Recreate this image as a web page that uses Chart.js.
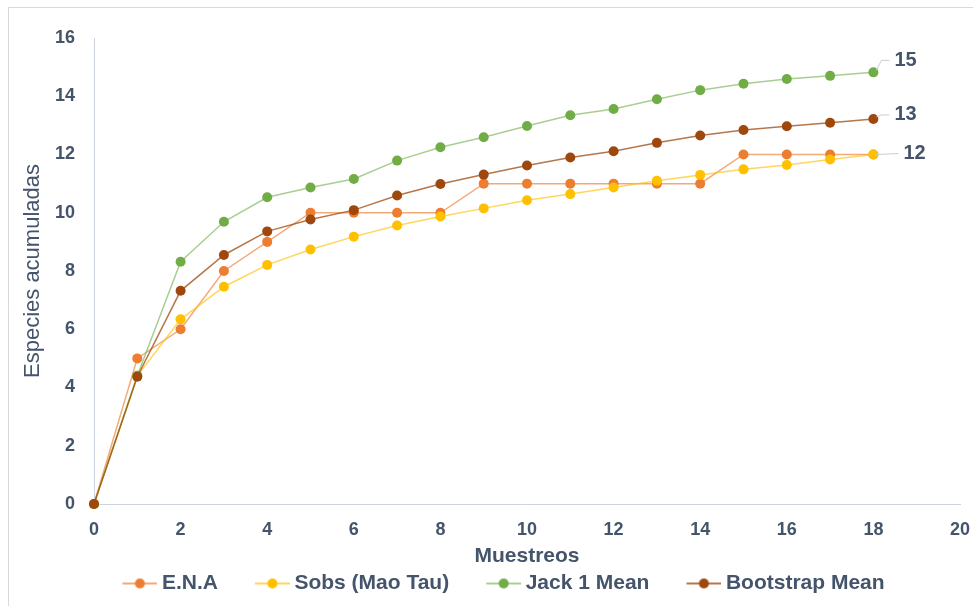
<!DOCTYPE html>
<html>
<head>
<meta charset="utf-8">
<script src="https://cdn.jsdelivr.net/npm/chart.js@4/dist/chart.umd.min.js"></script>
<style>
  html, body { margin: 0; padding: 0; background: #ffffff; }
  #wrap { position: relative; width: 973px; height: 606px; }
  canvas { display: block; }
</style>
</head>
<body>
<div id="wrap"><canvas id="c" width="973" height="606"></canvas></div>
<script>
// ---- data ----
const muestreos = [0, 1, 2, 3, 4, 5, 6, 7, 8, 9, 10, 11, 12, 13, 14, 15, 16, 17, 18];
const ena       = [0, 5, 6, 8, 9, 10, 10, 10, 10, 11, 11, 11, 11, 11, 11, 12, 12, 12, 12];
const sobs      = [0, 4.4, 6.34, 7.46, 8.21, 8.74, 9.18, 9.56, 9.87, 10.15, 10.43, 10.64, 10.87, 11.1, 11.3, 11.49, 11.64, 11.83, 12.0];
const jack1     = [0, 4.4, 8.32, 9.69, 10.53, 10.87, 11.16, 11.79, 12.25, 12.59, 12.98, 13.35, 13.56, 13.9, 14.21, 14.43, 14.59, 14.7, 14.82];
const bootstrap = [0, 4.37, 7.32, 8.55, 9.36, 9.77, 10.09, 10.59, 10.99, 11.31, 11.62, 11.9, 12.11, 12.4, 12.65, 12.84, 12.97, 13.09, 13.22];
const seriesNames = ['E.N.A', 'Sobs (Mao Tau)', 'Jack 1 Mean', 'Bootstrap Mean'];
const endLabels = ['', '12', '15', '13'];
const xTicks = [0, 2, 4, 6, 8, 10, 12, 14, 16, 18, 20];
const yTicks = [0, 2, 4, 6, 8, 10, 12, 14, 16];
const xTitle = 'Muestreos';
const yTitle = 'Especies acumuladas';

// ---- styles ----
const FONT = "'Liberation Sans', Arial, sans-serif";
const TEXT = '#44546A';
const AXIS = '#CDD3DD';
const colors = ['#ED7D31', '#FFC000', '#70AD47', '#9E480E'];
const lineColors = ['rgba(237,125,49,0.65)', 'rgba(255,192,0,0.65)', 'rgba(112,173,71,0.6)', 'rgba(158,72,14,0.75)'];
const seriesData = [ena, sobs, jack1, bootstrap];
const drawOrder = [3, 2, 1, 0];

function legendIcon(i) {
  const cv = document.createElement('canvas');
  cv.width = 74; cv.height = 14;
  const c = cv.getContext('2d');
  c.strokeStyle = lineColors[i];
  c.lineWidth = 2;
  c.beginPath(); c.moveTo(39, 7); c.lineTo(74, 7); c.stroke();
  c.fillStyle = colors[i];
  c.beginPath(); c.arc(56.5, 7, 5, 0, Math.PI * 2); c.fill();
  return cv;
}
const icons = seriesNames.map((_, i) => legendIcon(i));

const datasets = seriesNames.map((name, i) => ({
  label: name,
  data: muestreos.map((x, k) => ({ x: x, y: seriesData[i][k] })),
  borderColor: lineColors[i],
  backgroundColor: colors[i],
  borderWidth: 1.5,
  pointRadius: 5,
  pointHoverRadius: 5,
  pointBorderWidth: 0,
  pointBackgroundColor: colors[i],
  pointStyle: 'circle',
  tension: 0,
  clip: false,
  order: drawOrder[i]
}));

const frame = {
  id: 'frame',
  beforeDraw(chart) {
    const ctx = chart.ctx;
    ctx.save();
    ctx.strokeStyle = '#D9D9D9';
    ctx.lineWidth = 1;
    ctx.beginPath();
    ctx.moveTo(8.5, 620); ctx.lineTo(8.5, 7.5); ctx.lineTo(990, 7.5);
    ctx.stroke();
    ctx.restore();
  }
};

const endLabelPlugin = {
  id: 'endLabels',
  afterDatasetsDraw(chart) {
    const ctx = chart.ctx;
    const xs = chart.scales.x, ys = chart.scales.y;
    ctx.save();
    ctx.font = "bold 20px " + FONT;
    ctx.fillStyle = TEXT;
    ctx.textBaseline = 'middle';
    ctx.textAlign = 'left';
    endLabels.forEach((txt, i) => {
      if (!txt) return;
      const d = seriesData[i];
      const px = xs.getPixelForValue(muestreos[muestreos.length - 1]);
      const py = ys.getPixelForValue(d[d.length - 1]);
      ctx.strokeStyle = '#C8CDD5';
      ctx.lineWidth = 1;
      ctx.beginPath();
      if (txt === '12') {
        ctx.moveTo(px + 3, py);
        ctx.lineTo(px + 25, py - 1);
        ctx.stroke();
        ctx.fillText(txt, px + 30, py - 1);
      } else {
        const dy = txt === '15' ? -12 : -4;
        ctx.moveTo(px + 3, py - 2);
        ctx.lineTo(px + 8, py + dy);
        ctx.lineTo(px + 16, py + dy);
        ctx.stroke();
        ctx.fillText(txt, px + 21, py + dy);
      }
    });
    ctx.restore();
  }
};

new Chart(document.getElementById('c'), {
  type: 'line',
  data: { datasets: datasets },
  options: {
    responsive: false,
    animation: false,
    events: [],
    layout: { padding: { left: 14, right: 13, top: 38, bottom: 2 } },
    plugins: {
      tooltip: { enabled: false },
      legend: {
        display: true,
        position: 'bottom',
        align: 'center',
        labels: {
          usePointStyle: true,
          pointStyleWidth: 62,
          padding: 4,
          color: TEXT,
          font: { family: FONT, size: 21, weight: 'bold' },
          sort: (a, b) => a.datasetIndex - b.datasetIndex,
          generateLabels: (chart) => seriesNames.map((n, i) => ({
            text: n,
            fillStyle: colors[i],
            strokeStyle: colors[i],
            lineWidth: 0,
            pointStyle: icons[i],
            datasetIndex: i,
            hidden: false,
            fontColor: TEXT
          }))
        }
      }
    },
    scales: {
      x: {
        type: 'linear',
        min: 0, max: 20,
        afterBuildTicks: (s) => { s.ticks = xTicks.map(v => ({ value: v })); },
        ticks: {
          padding: 15,
          color: TEXT,
          font: { family: FONT, size: 18, weight: 'bold' },
          maxRotation: 0
        },
        grid: { drawOnChartArea: false, drawTicks: false },
        border: { display: true, color: AXIS, width: 1 },
        title: {
          display: true,
          text: xTitle,
          color: TEXT,
          font: { family: FONT, size: 21, weight: 'bold' },
          padding: { top: 0, bottom: 0 }
        },
        afterFit: (s) => { s.height = 65; s.paddingLeft = 0; s.paddingRight = 0; }
      },
      y: {
        type: 'linear',
        min: 0, max: 16,
        afterBuildTicks: (s) => { s.ticks = yTicks.map(v => ({ value: v })); },
        ticks: {
          padding: 19,
          color: TEXT,
          font: { family: FONT, size: 18, weight: 'bold' }
        },
        grid: { drawOnChartArea: false, drawTicks: false },
        border: { display: true, color: AXIS, width: 1 },
        title: {
          display: true,
          text: yTitle,
          color: TEXT,
          font: { family: FONT, size: 22, weight: 'normal' },
          padding: { top: 6, bottom: 0 }
        },
        afterFit: (s) => { s.width = 80; s.paddingTop = 0; s.paddingBottom = 0; }
      }
    }
  },
  plugins: [frame, endLabelPlugin]
});
</script>
</body>
</html>
